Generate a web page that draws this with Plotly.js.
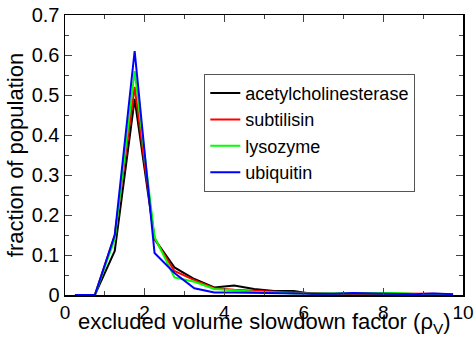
<!DOCTYPE html>
<html>
<head>
<meta charset="utf-8">
<script src="https://cdn.plot.ly/plotly-3.0.1.min.js"></script>
<style>html,body{margin:0;padding:0;background:#fff;}#chart{width:476px;height:337px;}</style>
</head>
<body>
<div id="chart"></div>
<script>
const xBins = [0.25,0.75,1.25,1.75,2.25,2.75,3.25,3.75,4.25,4.75,5.25,5.75,6.25,6.75,7.25,7.75,8.25,8.75,9.25,9.75];
const seriesNames = ["acetylcholinesterase","subtilisin","lysozyme","ubiquitin"];
const acetylcholinesterase = [0,0,0.11,0.49,0.14,0.069,0.04,0.019,0.024,0.015,0.01,0.01,0.002,0.002,0.002,0.002,0.002,0.002,0.002,0.002];
const subtilisin = [0,0,0.15,0.52,0.14,0.06,0.037,0.017,0.013,0.01,0.008,0.006,0.004,0.003,0.004,0.004,0.004,0.003,0.003,0.002];
const lysozyme = [0,0,0.14,0.56,0.145,0.044,0.033,0.015,0.012,0.008,0.006,0.004,0.004,0.004,0.004,0.005,0.005,0.003,0.003,0.002];
const ubiquitin = [0,0,0.15,0.61,0.105,0.055,0.017,0.006,0.006,0.005,0.004,0.003,0.003,0.003,0.005,0.004,0.003,0.002,0.004,0.002];
const xTitle = 'excluded volume slowdown factor (ρ<sub>V</sub>)';
const yTitle = 'fraction of population';
const colors = ["#000000","#ff0000","#00ff00","#0000ff"];
const allSeries = [acetylcholinesterase, subtilisin, lysozyme, ubiquitin];

const traces = allSeries.map((ys, i) => ({
  x: xBins, y: ys, type: 'scatter', mode: 'lines', name: seriesNames[i],
  line: {color: colors[i], width: 2}
}));

const font = {family: 'Liberation Sans, Arial, sans-serif', color: '#000'};
const layout = {
  width: 476, height: 337,
  margin: {l: 65, r: 13, t: 15, b: 42},
  paper_bgcolor: '#fff', plot_bgcolor: '#fff',
  font: Object.assign({size: 20}, font),
  showlegend: true,
  legend: {
    x: 0.35, y: 0.79, xanchor: 'left', yanchor: 'top',
    bordercolor: '#555', borderwidth: 1, bgcolor: '#fff',
    font: Object.assign({size: 18}, font),
    itemwidth: 30, tracegroupgap: 0
  },
  xaxis: {
    range: [0, 10], dtick: 2, tick0: 0, ticks: 'inside', ticklen: 7, tickwidth: 1,
    minor: {dtick: 1, ticks: 'inside', ticklen: 4},
    showline: true, linecolor: '#000', linewidth: 1.5, mirror: 'ticks',
    showgrid: false, zeroline: false,
    ticklabeloverflow: 'allow',
    tickfont: Object.assign({size: 19}, font)
  },
  yaxis: {
    range: [0, 0.7], dtick: 0.1, tick0: 0, ticks: 'inside', ticklen: 7, tickwidth: 1,
    minor: {dtick: 0.05, ticks: 'inside', ticklen: 4},
    showline: true, linecolor: '#000', linewidth: 1.5, mirror: 'ticks',
    showgrid: false, zeroline: false,
    tickfont: Object.assign({size: 20}, font),
    title: {text: yTitle, font: Object.assign({size: 22}, font), standoff: 2}
  },
  annotations: [{
    text: xTitle, xref: 'paper', yref: 'paper', x: 0.5, y: -0.152,
    xanchor: 'center', yanchor: 'bottom', showarrow: false, borderpad: 0,
    font: Object.assign({size: 22}, font)
  }]
};
Plotly.newPlot('chart', traces, layout, {displayModeBar: false, staticPlot: true});
</script>
</body>
</html>
